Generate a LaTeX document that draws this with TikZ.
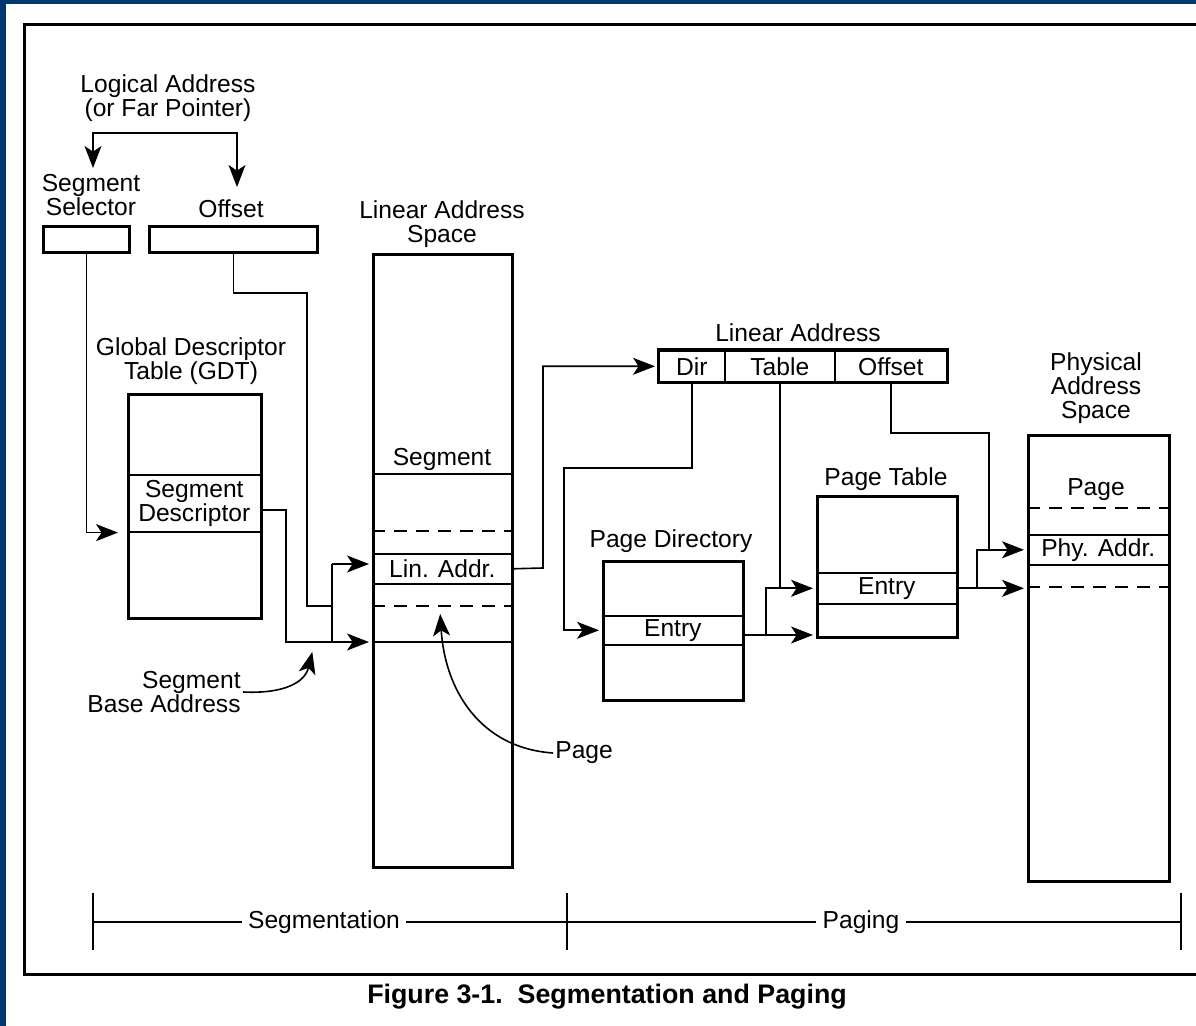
\documentclass[tikz,border=0pt]{standalone}
\usepackage{fontspec}
\setmainfont{Liberation Sans}
\usetikzlibrary{arrows.meta}
\definecolor{navy}{RGB}{0,55,108}
\begin{document}
\begin{tikzpicture}[x=0.5pt,y=-0.5pt,
  txt/.style={font=\fontsize{12.3pt}{12pt}\selectfont},
  lbl/.style={txt, align=center, inner sep=1pt},
  box/.style={draw, line width=1.5pt, inner sep=0pt, anchor=north west},
  band/.style={txt, draw, line width=0.8pt, inner sep=0pt, anchor=north west, align=center},
  conn/.style={line width=0.8pt},
  arr/.style={conn, -{Stealth[length=11pt,width=8.5pt,inset=2.8pt,line width=0.6pt]}, shorten >=1.5pt},
  dsh/.style={line width=0.8pt, dash pattern=on 6.5pt off 4.5pt},
  tick/.style={line width=1.3pt}
]
\useasboundingbox (0,0) rectangle (1196,1026);
\clip (0,0) rectangle (1196,1026);
\fill[white] (0,0) rectangle (1196,1026);
\fill[navy] (0,0) rectangle (6,1026);
\fill[navy] (0,0) rectangle (1196,4);
% frame
\draw[line width=1.5pt] (1210,24.5) -- (24.5,24.5) -- (24.5,975) -- (1210,975);

% ---- labels ----
\node[lbl] (logical) at (168,98) {Logical Address\\(or Far Pointer)};
\node[lbl] (sellbl) at (91,195) {Segment\\Selector};
\node[lbl] (offlbl) at (231,209) {Offset};
\node[lbl] (laslbl) at (442,224) {Linear Address\\Space};
\node[lbl] (gdtlbl) at (191,361) {Global Descriptor\\Table (GDT)};
\node[lbl] (lalbl) at (798,333) {Linear Address};
\node[lbl] (pdlbl) at (671,541) {Page Directory};
\node[lbl] (ptlbl) at (886,479) {Page Table};
\node[lbl] (paslbl) at (1096,388) {Physical\\Address\\Space};
\node[lbl, align=right, anchor=east] (sba) at (243,692) {Segment\\Base Address};
\node[lbl, anchor=west] (pagelbl) at (553,753) {Page};

% ---- boxes ----
\node[box, minimum width=43pt, minimum height=13pt] (sel) at (42,225) {};
\node[box, minimum width=84pt, minimum height=13pt] (off) at (148,225) {};

\node[band, minimum width=66.5pt, minimum height=28.5pt] (gdtdesc) at (127,474) {Segment\\Descriptor};
\node[box, minimum width=66.5pt, minimum height=112pt] (gdt) at (127,393) {};

\node[band, minimum width=69.5pt, minimum height=15pt] (linaddr) at (372,553) {Lin. Addr.};
\node[box, minimum width=69.5pt, minimum height=306.5pt] (las) at (372,253) {};
\node[lbl] (seglbl) at (442,459) {Segment};
\draw[conn] (las.west |- 0,474) -- (las.east |- 0,474);
\draw[conn] (las.west |- 0,642) -- (las.east |- 0,642);
\draw[dsh] (las.west |- 0,531) -- (las.east |- 0,531);
\draw[dsh] (las.west |- 0,606) -- (las.east |- 0,606);

\node[band, minimum width=33pt, minimum height=15.5pt] (ladir) at (658,350) {Dir};
\node[band, minimum width=55pt, minimum height=15.5pt] (latab) at (724,350) {Table};
\node[band, minimum width=56pt, minimum height=15.5pt] (laoff) at (834,350) {Offset};
\draw[line width=1.5pt] (ladir.north west) rectangle (laoff.south east);

\node[band, minimum width=70pt, minimum height=14.5pt] (pdentry) at (602,615) {Entry};
\node[box, minimum width=70pt, minimum height=69.5pt] (pd) at (602,560) {};

\node[band, minimum width=70pt, minimum height=15.5pt] (ptentry) at (816,572) {Entry};
\node[box, minimum width=70pt, minimum height=70.5pt] (pt) at (816,495) {};

\node[band, minimum width=70.5pt, minimum height=15pt] (physaddr) at (1027,534) {Phy. Addr.};
\node[box, minimum width=70.5pt, minimum height=223pt] (pas) at (1027,434) {};
\node[lbl] (pagein) at (1096,490) {Page};
\draw[dsh] (pas.west |- 0,508) -- (pas.east |- 0,508);
\draw[dsh] (pas.west |- 0,587) -- (pas.east |- 0,587);

% ---- connectors ----
\coordinate (lafork) at (165,133);
\coordinate (selarr) at (93,171);
\coordinate (offarr) at (237,190);
\draw[arr] (lafork) -| (selarr);
\draw[arr] (lafork) -| (offarr);

\draw[arr, shorten >=4.5pt] (sel.south) |- (gdtdesc.south west);

\coordinate (addtop) at (332,564);
\coordinate (addbot) at (332,642);
\draw[conn] (off.south) |- (307,293) |- (332,606);
\draw[conn] (addtop) -- (addbot);
\draw[arr] (addtop) -- (las.west |- addtop);
\draw[conn] (gdtdesc.east |- 0,510) -| (286,642) -- (addbot);
\draw[arr] (addbot) -- (las.west |- addbot);

\draw[arr] (sba.east) .. controls (285,694) and (305,682) .. (313,649);
\draw[arr] (pagelbl.west) .. controls (480,748) and (445,690) .. (440,611);

\draw[arr] (linaddr.east) -- (543,568) |- (ladir.west);
\draw[arr] (ladir.south) |- (564,468) |- (pdentry.west);
\draw[arr] (latab.south) |- (ptentry.west);
\coordinate (pdj) at (766,635);
\draw[conn] (pdj) |- (latab.south |- ptentry.west);
\draw[arr] (pdentry.east |- pdj) -- (pt.west |- pdj);

\coordinate (ptj) at (ptentry.east -| 977,0);
\draw[arr] (ptentry.east) -- (pas.west |- ptentry.east);
\draw[arr] (ptj) |- (physaddr.west);
\draw[conn] (laoff.south) |- (989,433) -- (physaddr.west -| 989,0);

% ---- bottom scale ----
\node[txt, fill=white, inner sep=3pt] (segtxt) at (324,922) {Segmentation};
\node[txt, fill=white, inner sep=3pt] (pagtxt) at (861,922) {Paging};
\coordinate (t1) at (93,922);
\coordinate (t2) at (567,922);
\coordinate (t3) at (1181,922);
\draw[conn] (t1) -- (segtxt) -- (t2) -- (pagtxt) -- (t3);
\draw[tick] (93,893) -- (93,950);
\draw[tick] (567,893) -- (567,950);
\draw[tick] (1181,893) -- (1181,950);

% caption
\node[font=\fontsize{13.4pt}{16pt}\selectfont\bfseries] (cap) at (607,997) {Figure 3-1.\ \ Segmentation and Paging};
\end{tikzpicture}
\end{document}
